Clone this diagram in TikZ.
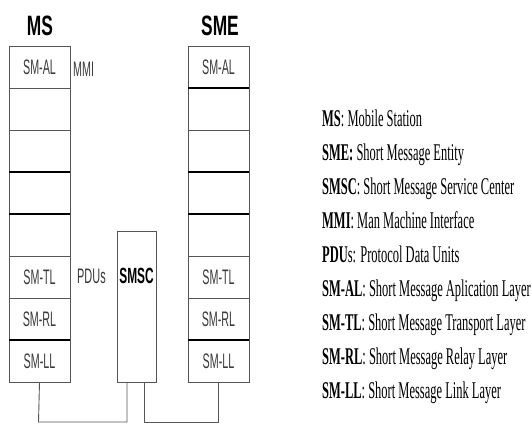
\documentclass[tikz,border=0pt]{standalone}
\usepackage{fontspec}
\setmainfont{Liberation Serif}
\newfontfamily\arialfont{Liberation Sans}
\usepackage{xcolor}
\definecolor{CLine}{HTML}{555555}
\definecolor{CText}{HTML}{3A3A3A}
\usepackage{tikz}
\usetikzlibrary{positioning}
\newcommand{\squeeze}[2]{\scalebox{#1}[1]{#2}}
\tikzstyle{layerBox}=[rectangle, draw=CLine, line width=0.9pt, minimum width=61pt,
  minimum height=42pt, inner sep=0pt, outer sep=0pt, text=CText,
  font=\arialfont\fontsize{21}{21}\selectfont]
\tikzstyle{titleNode}=[anchor=base, inner sep=0pt, font=\arialfont\bfseries\fontsize{28}{28}\selectfont]
\tikzstyle{sideNode}=[anchor=base west, inner sep=0pt, text=CText,
  font=\arialfont\fontsize{21}{21}\selectfont]
\tikzstyle{keyNode}=[anchor=base west, inner sep=0pt, font=\fontsize{24}{24}\selectfont]
\tikzstyle{sepLine}=[line width=2pt, draw=black]
\tikzstyle{link}=[line width=0.9pt, draw=CLine]

\begin{document}
\begin{tikzpicture}[x=1pt, y=-1pt, node distance=0pt]
\useasboundingbox (0,0) rectangle (532,423);
% mobile station stack
\node[titleNode] (msTitle) at (40,35) {\squeeze{0.62}{MS}};
\node[layerBox] (ms1) at (39.5,67) {\squeeze{0.51}{SM-AL}};
\node[layerBox, below=of ms1] (ms2) {};
\node[layerBox, below=of ms2] (ms3) {};
\node[layerBox, below=of ms3] (ms4) {};
\node[layerBox, below=of ms4] (ms5) {};
\node[layerBox, below=of ms5] (ms6) {\squeeze{0.51}{SM-TL}};
\node[layerBox, below=of ms6] (ms7) {\squeeze{0.51}{SM-RL}};
\node[layerBox, below=of ms7] (ms8) {\squeeze{0.51}{SM-LL}};
\draw[sepLine] (ms4.north west) -- (ms4.north east);
\draw[sepLine] (ms5.north west) -- (ms5.north east);
\draw[sepLine] (ms8.north west) -- (ms8.north east);
\node[sideNode] (mmi) at (73,76) {\squeeze{0.51}{MMI}};
\node[sideNode] (pdus) at (77,283) {\squeeze{0.52}{PDUs}};

% short message entity stack
\node[titleNode] (smeTitle) at (220,35) {\squeeze{0.62}{SME}};
\node[layerBox] (sme1) at (218.5,67) {\squeeze{0.51}{SM-AL}};
\node[layerBox, below=of sme1] (sme2) {};
\node[layerBox, below=of sme2] (sme3) {};
\node[layerBox, below=of sme3] (sme4) {};
\node[layerBox, below=of sme4] (sme5) {};
\node[layerBox, below=of sme5] (sme6) {\squeeze{0.51}{SM-TL}};
\node[layerBox, below=of sme6] (sme7) {\squeeze{0.51}{SM-RL}};
\node[layerBox, below=of sme7] (sme8) {\squeeze{0.51}{SM-LL}};
\draw[sepLine] (sme2.north west) -- (sme2.north east);
\draw[sepLine] (sme4.north west) -- (sme4.north east);
\draw[sepLine] (sme5.north west) -- (sme5.north east);
\draw[sepLine] (sme8.north west) -- (sme8.north east);

% service center
\node[layerBox, minimum width=39pt, minimum height=151pt] (smsc) at (136.5,306.5) {};
\node[anchor=base, inner sep=0pt, font=\arialfont\bfseries\fontsize{22}{22}\selectfont]
  (smscLbl) at ([yshift=-52pt]smsc.north) {\squeeze{0.54}{SMSC}};

% links
\coordinate (msFoot) at (38.5,422);
\coordinate (smeFoot) at (218.5,422);
\draw[link] (ms8.south) -- (msFoot) -| ([xshift=-9.5pt]smsc.south);
\draw[link] ([xshift=7.5pt]smsc.south) |- (smeFoot) -- (sme8.south);

% key
\node[keyNode] (keyMS) at (322,126) {\squeeze{0.52}{\textbf{MS}: Mobile Station}};
\node[keyNode] (keySME) at (322,160) {\squeeze{0.52}{\textbf{SME:} Short Message Entity}};
\node[keyNode] (keySMSC) at (322,194) {\squeeze{0.52}{\textbf{SMSC}: Short Message Service Center}};
\node[keyNode] (keyMMI) at (322,228) {\squeeze{0.52}{\textbf{MMI}: Man Machine Interface}};
\node[keyNode] (keyPDU) at (322,262) {\squeeze{0.52}{\textbf{PDU}s: Protocol Data Units}};
\node[keyNode] (keyAL) at (322,296) {\squeeze{0.52}{\textbf{SM-AL}: Short Message Aplication Layer}};
\node[keyNode] (keyTL) at (322,330) {\squeeze{0.52}{\textbf{SM-TL}: Short Message Transport Layer}};
\node[keyNode] (keyRL) at (322,364) {\squeeze{0.52}{\textbf{SM-RL}: Short Message Relay Layer}};
\node[keyNode] (keyLL) at (322,398) {\squeeze{0.52}{\textbf{SM-LL}: Short Message Link Layer}};
\end{tikzpicture}
\end{document}
